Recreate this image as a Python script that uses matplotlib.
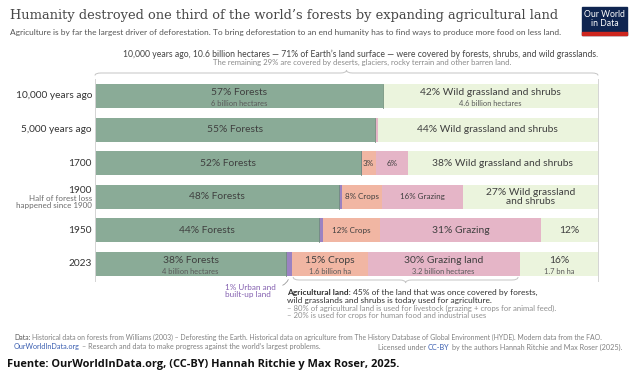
import matplotlib
matplotlib.use("Agg")
import matplotlib.pyplot as plt
from matplotlib.path import Path
from matplotlib.patches import PathPatch, Rectangle
import numpy as np

# ---------------- data ----------------
periods = ["10,000 years ago", "5,000 years ago", "1700", "1900", "1950", "2023"]
forests = [57.3, 55.6, 52.8, 48.6, 44.6, 38.0]
urban = [0.0, 0.0, 0.2, 0.5, 0.7, 1.2]
crops = [0.0, 0.0, 2.8, 7.9, 11.4, 15.0]
grazing = [0.0, 0.6, 6.4, 16.1, 32.0, 30.2]
grassland = [42.7, 43.8, 37.8, 26.9, 11.3, 15.6]

forest_labels = ["57% Forests", "55% Forests", "52% Forests", "48% Forests", "44% Forests", "38% Forests"]
forest_sub = ["6 billion hectares", "", "", "", "", "4 billion hectares"]
crop_labels = ["", "", "3%", "8% Crops", "12% Crops", "15% Crops"]
crop_sub = ["", "", "", "", "", "1.6 billion ha"]
grazing_labels = ["", "", "6%", "16% Grazing", "31% Grazing", "30% Grazing land"]
grazing_sub = ["", "", "", "", "", "3.2 billion hectares"]
grass_labels = ["42% Wild grassland and shrubs", "44% Wild grassland and shrubs",
                "38% Wild grassland and shrubs", "27% Wild grassland\nand shrubs", "12%", "16%"]
grass_sub = ["4.6 billion hectares", "", "", "", "", "1.7 bn ha"]

# ---------------- style ----------------
C_FOREST = "#8aab97"
C_URBAN = "#9b82c2"
C_CROPS = "#f1b6a3"
C_GRAZ = "#e5b5c7"
C_GRASS = "#ebf4dd"
TXT = "#3f3f3f"
SUB = "#5a5a5a"

W, H = 635, 385
fig = plt.figure(figsize=(W / 100, H / 100), dpi=100)
fig.patch.set_facecolor("white")
plt.rcParams["font.family"] = ["Lato", "DejaVu Sans"]

def fx(px):
    return px / W

def fy(py):
    return 1 - py / H

renderer = fig.canvas.get_renderer()

def text_fit(x, y, s, width_px, size, **kw):
    t = fig.text(fx(x), fy(y), s, fontsize=size, **kw)
    w = t.get_window_extent(renderer).width
    t.set_fontsize(size * width_px / w)
    return t

# axes for bars
row_h = 33.6
top_px = 96 - row_h / 2
bot_px = 264 + row_h / 2
ax = fig.add_axes([fx(95), fy(bot_px), (598 - 95) / W, (bot_px - top_px) / H])
ax.set_xlim(0, 100)
ax.set_ylim(len(periods) - 0.5, -0.5)
ax.set_xticks([])
ax.set_yticks([])
for s in ["top", "bottom"]:
    ax.spines[s].set_visible(False)
for s in ["left", "right"]:
    ax.spines[s].set_color("#d4d4d4")
    ax.spines[s].set_linewidth(0.7)

y = np.arange(len(periods))
bh = 0.71
series = [(forests, C_FOREST), (urban, C_URBAN), (crops, C_CROPS), (grazing, C_GRAZ), (grassland, C_GRASS)]
left = np.zeros(len(periods))
lefts = []
for vals, col in series:
    vals = np.array(vals)
    ax.barh(y, vals, left=left, height=bh, color=col, edgecolor="none", zorder=2)
    lefts.append(left.copy())
    left = left + vals

# segment boundary lines
for i in range(len(periods)):
    b = forests[i]
    ax.plot([b, b], [i - bh / 2, i + bh / 2], color="#6f8f7c", lw=0.6, zorder=3)

MAIN = 7.4
SMALL = 5.8
SUBS = 5.4

def put(i, x, main, sub, size):
    if not main:
        return
    if sub:
        ax.text(x, i - 0.1, main, ha="center", va="center", fontsize=size, color=TXT, zorder=4)
        ax.text(x, i + 0.21, sub, ha="center", va="center", fontsize=SUBS, color=SUB, zorder=4)
    else:
        ax.text(x, i, main, ha="center", va="center", fontsize=size, color=TXT, zorder=4,
                linespacing=0.95)

for i in range(len(periods)):
    fc = lefts[0][i] + forests[i] / 2
    put(i, fc, forest_labels[i], forest_sub[i], MAIN)
    cc = lefts[2][i] + crops[i] / 2
    put(i, cc, crop_labels[i], crop_sub[i], SMALL if crops[i] < 14 else MAIN)
    gc = lefts[3][i] + grazing[i] / 2
    put(i, gc, grazing_labels[i], grazing_sub[i], SMALL if grazing[i] < 20 else MAIN)
    sc = lefts[4][i] + grassland[i] / 2
    put(i, sc, grass_labels[i], grass_sub[i], MAIN)

# row labels
for i, p in enumerate(periods):
    if p == "1900":
        ax.text(-0.6, i - 0.2, p, ha="right", va="center", fontsize=7.3, color="#333333", clip_on=False)
        ax.text(-0.6, i + 0.05, "Half of forest loss", ha="right", va="center", fontsize=5.8,
                color="#6b6b6b", clip_on=False)
        ax.text(-0.6, i + 0.27, "happened since 1900", ha="right", va="center", fontsize=5.8,
                color="#6b6b6b", clip_on=False)
    else:
        ax.text(-0.6, i, p, ha="right", va="center", fontsize=7.3, color="#333333", clip_on=False)

# braces
def brace(axx, x0, x1, ybase, dy_end, dy_tip, r=1.2):
    xm = (x0 + x1) / 2
    verts = [(x0, ybase + dy_end), (x0, ybase), (x0 + r, ybase),
             (xm - r, ybase), (xm, ybase), (xm, ybase + dy_tip),
             (xm, ybase), (xm + r, ybase),
             (x1 - r, ybase), (x1, ybase), (x1, ybase + dy_end)]
    codes = [Path.MOVETO, Path.CURVE3, Path.CURVE3,
             Path.LINETO, Path.CURVE3, Path.CURVE3,
             Path.CURVE3, Path.CURVE3,
             Path.LINETO, Path.CURVE3, Path.CURVE3]
    p = PathPatch(Path(verts, codes), fill=False, edgecolor="#c4c4c4", lw=0.7, clip_on=False)
    axx.add_patch(p)

brace(ax, 0, 100, -0.5 - 6.2 / row_h, 2.5 / row_h, -3 / row_h)
i23 = len(periods) - 1
brace(ax, lefts[2][i23] + 0.2, lefts[4][i23] - 0.3, i23 + 16 / row_h, -3 / row_h, 3 / row_h)

# urban leader
ux = lefts[1][i23] + urban[i23] / 2
ax.annotate("", xy=(ux, i23 + bh / 2 + 0.03), xytext=(36.8, i23 + 0.66),
            arrowprops=dict(arrowstyle="-", color="#9a9a9a", lw=0.6,
                            connectionstyle="arc3,rad=0.3"), annotation_clip=False)

# ---------------- texts ----------------
text_fit(10, 15, "Humanity destroyed one third of the world\u2019s forests by expanding agricultural land",
         548, 12, family="DejaVu Serif", color="#474747", va="center")
text_fit(10, 32, "Agriculture is by far the largest driver of deforestation. To bring deforestation to an end "
         "humanity has to find ways to produce more food on less land.", 555, 6, color="#555555",
         va="center")

# logo
fig.patches.append(Rectangle((fx(582), fy(35)), fx(627) - fx(582), fy(7) - fy(35),
                             transform=fig.transFigure, color="#0f2550", zorder=5))
fig.patches.append(Rectangle((fx(582), fy(35)), fx(627) - fx(582), fy(32) - fy(35),
                             transform=fig.transFigure, color="#ce261e", zorder=6))
fig.text(fx(604.5), fy(19), "Our World\nin Data", ha="center", va="center", color="white",
         fontsize=6.2, linespacing=1.0, zorder=7)

text_fit(123, 54, "10,000 years ago, 10.6 billion hectares \u2014 71% of Earth\u2019s land surface \u2014 were "
         "covered by forests, shrubs, and wild grasslands.", 475, 6, color="#444444", va="center")
fig.text(fx(362), fy(62), "The remaining 29% are covered by deserts, glaciers, rocky terrain and other barren land.",
         ha="center", va="center", fontsize=5.6, color="#8a8a8a")

# annotations below
fig.text(fx(225), fy(287), "1% Urban and", fontsize=5.9, color="#8460b0", va="center")
fig.text(fx(225), fy(295), "built-up land", fontsize=5.9, color="#8460b0", va="center")
tb = fig.text(fx(287), fy(292), "Agricultural land:", fontsize=6.0, color="#333333", va="center",
              fontweight="bold")
bw = tb.get_window_extent(renderer).width
fig.text(fx(287 + bw + 2), fy(292), "45% of the land that was once covered by forests,",
         fontsize=6.0, color="#333333", va="center")
fig.text(fx(287), fy(300), "wild grasslands and shrubs is today used for agriculture.",
         fontsize=6.0, color="#333333", va="center")
fig.text(fx(287), fy(308), "\u2013 80% of agricultural land is used for livestock (grazing + crops for animal feed).",
         fontsize=5.6, color="#8f8f8f", va="center")
fig.text(fx(287), fy(315.5), "\u2013 20% is used for crops for human food and industrial uses",
         fontsize=5.6, color="#8f8f8f", va="center")

# footer
FS = 5.2
fd = fig.text(fx(14), fy(337), "Data:", fontsize=FS, color="#555555", va="center")
rest = fig.text(0, fy(337),
                "Historical data on forests from Williams (2003) \u2013 Deforesting the Earth. Historical data on agriculture "
                "from The History Database of Global Environment (HYDE). Modern data from the FAO.",
                fontsize=FS, color="#808080", va="center")
dw = fd.get_window_extent(renderer).width
rw0 = rest.get_window_extent(renderer).width
scale = (598 - 14) / (dw + 2 + rw0)
fd.set_fontsize(FS * scale)
rest.set_fontsize(FS * scale)
dw = fd.get_window_extent(renderer).width
rest.set_x(fx(14 + dw + 2))

fo = fig.text(fx(14), fy(347), "OurWorldInData.org", fontsize=FS, color="#3a5eb0", va="center")
ow = fo.get_window_extent(renderer).width
fig.text(fx(14 + ow + 2), fy(347),
         "\u2013 Research and data to make progress against the world\u2019s largest problems.",
         fontsize=FS, color="#808080", va="center")
fr = fig.text(fx(622), fy(347), "by the authors Hannah Ritchie and Max Roser (2025).", fontsize=FS,
              color="#808080", va="center", ha="right")
rw = fr.get_window_extent(renderer).width
fc_ = fig.text(fx(622 - rw - 2), fy(347), "CC-BY", fontsize=FS, color="#3a5eb0", va="center", ha="right")
cw = fc_.get_window_extent(renderer).width
fig.text(fx(622 - rw - cw - 4), fy(347), "Licensed under", fontsize=FS, color="#808080", va="center", ha="right")

text_fit(7, 364, "Fuente: OurWorldInData.org, (CC-BY) Hannah Ritchie y Max Roser, 2025.", 395, 8,
         family=["Open Sans", "DejaVu Sans"], fontweight="bold", color="#111111", va="center")

fig.savefig("out.png", dpi=100, facecolor="white")
